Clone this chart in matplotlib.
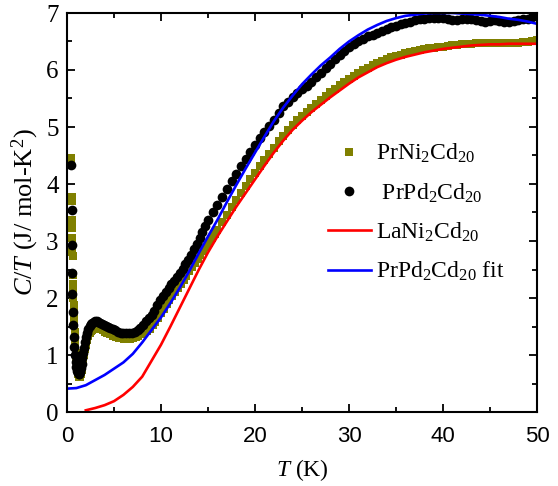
import matplotlib
matplotlib.use("Agg")
import matplotlib.pyplot as plt
from matplotlib.ticker import MultipleLocator

# ---------------- data ----------------
# PrPd2Cd20 (black circles)
T_pd = [0.45, 0.48, 0.50, 0.53, 0.56, 0.60, 0.64, 0.70, 0.77, 0.85, 0.93, 1.00,
        1.08, 1.16, 1.24, 1.32, 1.40, 1.48, 1.56, 1.64, 1.72, 1.80, 1.90, 2.00,
        2.12, 2.25, 2.40, 2.55, 2.70, 2.85, 3.00, 3.15, 3.30, 3.50, 3.70, 3.90,
        4.10, 4.35, 4.60, 4.85, 5.10, 5.40, 5.70, 6.00, 6.30, 6.60, 6.90, 7.20,
        7.50, 7.80, 8.10, 8.40, 8.70, 9.00, 9.30, 9.60, 9.90, 10.2, 10.5, 10.8,
        11.1, 11.4, 11.7, 12.0, 12.3, 12.6, 12.9, 13.2, 13.5, 13.8, 14.1, 14.4,
        14.7, 15.0, 15.5, 16.0, 16.5, 17.0, 17.5, 18.0, 18.5, 19.0, 19.5, 20.0,
        20.5, 21.0, 21.5, 22.0, 22.5, 23.0, 23.5, 24.0, 24.5, 25.0, 25.5, 26.0,
        26.5, 27.0, 27.5, 28.0, 28.5, 29.0, 29.5, 30.0, 30.5, 31.0, 31.5, 32.0,
        32.5, 33.0, 33.5, 34.0, 34.5, 35.0, 35.5, 36.0, 36.5, 37.0, 37.5, 38.0,
        38.5, 39.0, 39.5, 40.0, 40.5, 41.0, 41.5, 42.0, 42.5, 43.0, 43.5, 44.0,
        44.5, 45.0, 45.5, 46.0, 46.5, 47.0, 47.5, 48.0, 48.5, 49.0, 49.5, 50.0]
C_pd = [4.33, 3.54, 2.93, 2.44, 2.07, 1.75, 1.53, 1.32, 1.14, 1.00, 0.88, 0.79,
        0.72, 0.68, 0.66, 0.67, 0.71, 0.77, 0.85, 0.94, 1.03, 1.12, 1.22, 1.31,
        1.39, 1.46, 1.51, 1.55, 1.57, 1.58, 1.59, 1.59, 1.58, 1.57, 1.55, 1.53,
        1.51, 1.49, 1.47, 1.45, 1.43, 1.41, 1.39, 1.38, 1.38, 1.38, 1.39, 1.41,
        1.44, 1.48, 1.53, 1.59, 1.65, 1.71, 1.78, 1.87, 1.96, 2.04, 2.11, 2.17,
        2.24, 2.30, 2.37, 2.43, 2.51, 2.59, 2.67, 2.76, 2.86, 2.95, 3.05, 3.16,
        3.26, 3.36, 3.50, 3.64, 3.78, 3.91, 4.05, 4.18, 4.31, 4.44, 4.56, 4.68,
        4.80, 4.91, 5.02, 5.13, 5.25, 5.36, 5.44, 5.52, 5.59, 5.66, 5.72, 5.79,
        5.87, 5.95, 6.03, 6.11, 6.19, 6.26, 6.33, 6.40, 6.45, 6.50, 6.55, 6.59,
        6.62, 6.65, 6.69, 6.72, 6.75, 6.77, 6.80, 6.83, 6.85, 6.87, 6.89, 6.90,
        6.91, 6.91, 6.92, 6.91, 6.90, 6.88, 6.88, 6.89, 6.90, 6.89, 6.87, 6.86,
        6.85, 6.86, 6.87, 6.86, 6.85, 6.85, 6.86, 6.88, 6.90, 6.90, 6.93, 6.95]

# PrNi2Cd20 (olive squares)
T_ni = [0.45, 0.47, 0.50, 0.52, 0.53, 0.55, 0.57, 0.58, 0.60, 0.62, 0.64, 0.66,
        0.68, 0.70, 0.72, 0.75, 0.78, 0.82, 0.86, 0.90, 0.95, 1.00, 1.06, 1.12,
        1.18, 1.25, 1.32, 1.40, 1.48, 1.56, 1.64, 1.72, 1.80, 1.90, 2.00, 2.12,
        2.25, 2.40, 2.55, 2.70, 2.85, 3.00, 3.20, 3.40, 3.60, 3.80, 4.00, 4.30,
        4.60, 4.90, 5.20, 5.50, 5.80, 6.10, 6.40, 6.70, 7.00, 7.30, 7.60, 7.90,
        8.20, 8.50, 8.80, 9.10, 9.40, 9.70, 10.0, 10.3, 10.6, 10.9, 11.2, 11.5,
        11.8, 12.1, 12.4, 12.7, 13.0, 13.3, 13.6, 13.9, 14.2, 14.5, 14.8, 15.1,
        15.4, 15.7, 16.0, 16.5, 17.0, 17.5, 18.0, 18.5, 19.0, 19.5, 20.0, 20.5,
        21.0, 21.5, 22.0, 22.5, 23.0, 23.5, 24.0, 24.5, 25.0, 25.5, 26.0, 26.5,
        27.0, 27.5, 28.0, 28.5, 29.0, 29.5, 30.0, 30.5, 31.0, 31.5, 32.0, 32.5,
        33.0, 33.5, 34.0, 34.5, 35.0, 35.5, 36.0, 36.5, 37.0, 37.5, 38.0, 38.5,
        39.0, 39.5, 40.0, 40.5, 41.0, 41.5, 42.0, 42.5, 43.0, 43.5, 44.0, 44.5,
        45.0, 45.5, 46.0, 46.5, 47.0, 47.5, 48.0, 48.5, 49.0, 49.5, 50.0]
C_ni = [4.45, 4.38, 3.78, 3.70, 3.37, 3.22, 3.05, 2.81, 2.74, 2.40, 2.25, 2.12,
        2.00, 1.88, 1.76, 1.64, 1.52, 1.40, 1.28, 1.16, 1.04, 0.92, 0.81, 0.72,
        0.66, 0.62, 0.61, 0.62, 0.67, 0.74, 0.82, 0.91, 1.00, 1.10, 1.18, 1.26,
        1.33, 1.38, 1.42, 1.44, 1.46, 1.47, 1.47, 1.46, 1.45, 1.43, 1.41, 1.38,
        1.36, 1.34, 1.32, 1.30, 1.29, 1.28, 1.28, 1.28, 1.29, 1.31, 1.33, 1.36,
        1.39, 1.42, 1.46, 1.52, 1.58, 1.65, 1.73, 1.81, 1.89, 1.97, 2.04, 2.11,
        2.18, 2.25, 2.32, 2.39, 2.47, 2.54, 2.61, 2.68, 2.75, 2.82, 2.89, 2.97,
        3.05, 3.12, 3.20, 3.33, 3.46, 3.59, 3.72, 3.84, 3.96, 4.08, 4.20, 4.31,
        4.42, 4.53, 4.64, 4.75, 4.85, 4.95, 5.04, 5.12, 5.20, 5.27, 5.34, 5.41,
        5.48, 5.55, 5.61, 5.67, 5.73, 5.79, 5.85, 5.90, 5.95, 6.00, 6.04, 6.08,
        6.12, 6.16, 6.19, 6.22, 6.25, 6.27, 6.29, 6.31, 6.33, 6.35, 6.36, 6.38,
        6.39, 6.40, 6.41, 6.42, 6.43, 6.44, 6.45, 6.46, 6.46, 6.47, 6.47, 6.47,
        6.47, 6.48, 6.48, 6.48, 6.48, 6.48, 6.48, 6.49, 6.49, 6.50, 6.52]

# LaNi2Cd20 (red line)
T_la = [2, 3, 4, 5, 6, 7, 8, 9, 10, 11, 12, 13, 14, 15, 16, 17, 18, 19, 20,
        21, 22, 23, 24, 25, 26, 27, 28, 29, 30, 31, 32, 33, 34, 35, 36, 37, 38,
        39, 40, 41, 42, 43, 44, 45, 46, 47, 48, 49, 50]
C_la = [0.03, 0.07, 0.12, 0.19, 0.30, 0.44, 0.62, 0.90, 1.18, 1.50, 1.83, 2.16,
        2.49, 2.80, 3.08, 3.34, 3.60, 3.84, 4.08, 4.32, 4.55, 4.76, 4.95, 5.11,
        5.26, 5.39, 5.52, 5.64, 5.76, 5.87, 5.96, 6.05, 6.12, 6.18, 6.23, 6.27,
        6.31, 6.34, 6.37, 6.39, 6.41, 6.43, 6.44, 6.45, 6.45, 6.46, 6.46, 6.46,
        6.46]

# PrPd2Cd20 fit (blue line)
T_fit = [0, 1, 2, 3, 4, 5, 6, 7, 8, 9, 10, 11, 12, 13, 14, 15, 16, 17, 18, 19,
         20, 21, 22, 23, 24, 25, 26, 27, 28, 29, 30, 31, 32, 33, 34, 35, 36, 37,
         38, 39, 40, 41, 42, 43, 44, 45, 46, 47, 48, 49, 50]
C_fit = [0.41, 0.42, 0.47, 0.56, 0.65, 0.76, 0.87, 1.02, 1.22, 1.44, 1.66, 1.91,
         2.18, 2.47, 2.78, 3.08, 3.37, 3.68, 3.98, 4.27, 4.55, 4.83, 5.10, 5.34,
         5.55, 5.75, 5.92, 6.08, 6.22, 6.37, 6.50, 6.61, 6.71, 6.79, 6.86, 6.91,
         6.95, 6.97, 6.99, 7.00, 7.00, 7.00, 6.99, 6.98, 6.97, 6.95, 6.93, 6.90,
         6.88, 6.85, 6.81]

labels = [r'PrNi$_2$Cd$_{20}$', r' PrPd$_2$Cd$_{20}$',
          r'LaNi$_2$Cd$_{20}$', r'PrPd$_2$Cd$_{20}$ fit']

# ---------------- style ----------------
plt.rcParams['font.family'] = ['Liberation Serif', 'DejaVu Serif']
plt.rcParams['mathtext.fontset'] = 'custom'
plt.rcParams['mathtext.rm'] = 'Liberation Serif'
plt.rcParams['mathtext.it'] = 'Liberation Serif:italic'
plt.rcParams['mathtext.bf'] = 'Liberation Serif:bold'

fig = plt.figure(figsize=(5.58, 4.86), dpi=100)
ax = fig.add_axes([67 / 558, 1 - 412 / 486, 470 / 558, 399 / 486])

ax.plot(T_ni, C_ni, 's', color='#808000', ms=5.2, mec='#808000', mew=0, label=labels[0])
ax.plot(T_pd, C_pd, 'o', color='black', ms=7.0, mew=0, label=labels[1])
ax.plot(T_la, C_la, '-', color='#ff0000', lw=1.9, label=labels[2])
ax.plot(T_fit, C_fit, '-', color='#0000ff', lw=1.9, label=labels[3])

ax.set_xlim(0, 50)
ax.set_ylim(0, 7)
ax.xaxis.set_major_locator(MultipleLocator(10))
ax.xaxis.set_minor_locator(MultipleLocator(5))
ax.yaxis.set_major_locator(MultipleLocator(1))
ax.yaxis.set_minor_locator(MultipleLocator(0.5))

for s in ax.spines.values():
    s.set_linewidth(1.5)
ax.tick_params(which='both', direction='in', top=True, right=True, width=1.3)
ax.tick_params(which='major', length=6)
ax.tick_params(which='minor', length=3.5)
ax.tick_params(axis='y', labelsize=18, pad=6)
ax.tick_params(axis='x', labelsize=16, pad=10, labelfontfamily='Liberation Sans')

ax.set_xlabel(r'$T$ (K)', fontsize=17, labelpad=7)
ax.set_ylabel(r'$C/T$ (J/ mol-K$^2$)', fontsize=19, labelpad=4)

leg = ax.legend(loc='upper left', bbox_to_anchor=((328 - 67) / 470, (412 - 142) / 399),
                frameon=False, fontsize=17, handlelength=1.8, handletextpad=0.25,
                labelspacing=0.68, borderpad=0, borderaxespad=0, markerscale=1.0)

fig.savefig('out.png', dpi=100)
